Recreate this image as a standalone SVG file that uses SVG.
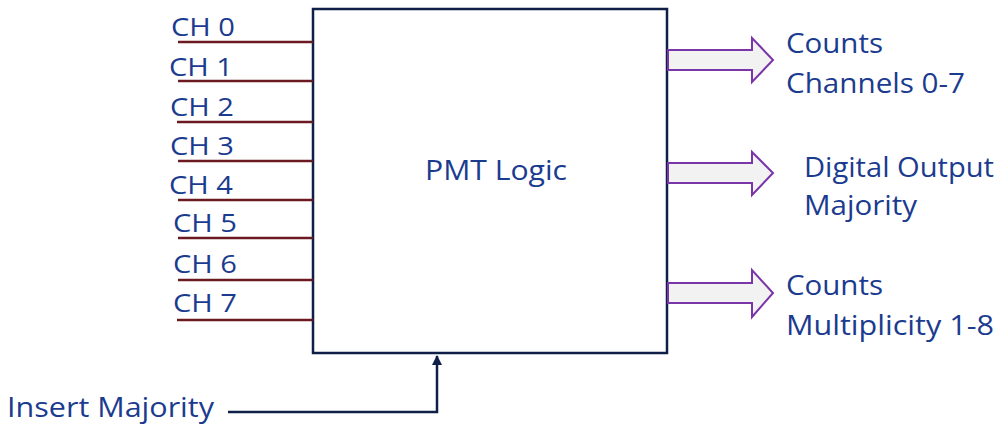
<svg xmlns="http://www.w3.org/2000/svg" width="1003" height="429" viewBox="0 0 1003 429">
<style>
text{font-family:"Open Sans",Lato,"Liberation Sans",sans-serif;fill:#1b3b8f;font-size:27px}
#ch-labels text{font-size:26px}
.ch{stroke:#6b1a22;stroke-width:2.5;fill:none}
.blk{fill:#f2f2f2;stroke:#7a35a8;stroke-width:2}
.nav{stroke:#0f1f48;stroke-width:2.5;fill:none}
</style>
<defs>
<marker id="ah" viewBox="0 0 10 10" refX="9" refY="5" markerWidth="4" markerHeight="4" orient="auto"><path d="M0,0 L10,5 L0,10 z" fill="#0f1f48"/></marker>
</defs>
<g id="pmt-logic">
<rect x="313" y="9" width="354" height="344" fill="#fff" class="nav"/>
<text x="425" y="180" textLength="142" lengthAdjust="spacingAndGlyphs">PMT Logic</text>
</g>
<g id="connectors">
<line class="ch" x1="178" y1="42" x2="313" y2="42"/>
<line class="ch" x1="178" y1="81" x2="313" y2="81"/>
<line class="ch" x1="177" y1="122" x2="313" y2="122"/>
<line class="ch" x1="178" y1="161" x2="313" y2="161"/>
<line class="ch" x1="178" y1="200" x2="313" y2="200"/>
<line class="ch" x1="178" y1="238" x2="313" y2="238"/>
<line class="ch" x1="178" y1="280" x2="313" y2="280"/>
<line class="ch" x1="177" y1="320" x2="313" y2="320"/>
<path class="blk" d="M668,50 H752 V38 L773,60 L752,82 V70 H668 Z"/>
<path class="blk" d="M668,163 H752 V152 L773,173 L752,195 V183 H668 Z"/>
<path class="blk" d="M668,283 H752 V270 L773,293 L752,317 V303 H668 Z"/>
<path class="nav" d="M228,412 H437 V356" marker-end="url(#ah)"/>
</g>
<g id="ch-labels">
<text x="171" y="36" textLength="64" lengthAdjust="spacingAndGlyphs">CH 0</text>
<text x="169" y="76" textLength="64" lengthAdjust="spacingAndGlyphs">CH 1</text>
<text x="170" y="116" textLength="64" lengthAdjust="spacingAndGlyphs">CH 2</text>
<text x="170" y="155" textLength="64" lengthAdjust="spacingAndGlyphs">CH 3</text>
<text x="169" y="194" textLength="64" lengthAdjust="spacingAndGlyphs">CH 4</text>
<text x="173" y="232" textLength="64" lengthAdjust="spacingAndGlyphs">CH 5</text>
<text x="173" y="273" textLength="64" lengthAdjust="spacingAndGlyphs">CH 6</text>
<text x="173" y="312" textLength="64" lengthAdjust="spacingAndGlyphs">CH 7</text>
</g>
<g id="out-counts-channels">
<text x="786" y="53" textLength="97" lengthAdjust="spacingAndGlyphs">Counts</text>
<text x="786" y="93" textLength="179" lengthAdjust="spacingAndGlyphs">Channels 0-7</text>
</g>
<g id="out-digital">
<text x="804" y="177" textLength="190" lengthAdjust="spacingAndGlyphs">Digital Output</text>
<text x="804" y="215" textLength="113" lengthAdjust="spacingAndGlyphs">Majority</text>
</g>
<g id="out-multiplicity">
<text x="786" y="295" textLength="97" lengthAdjust="spacingAndGlyphs">Counts</text>
<text x="786" y="335" textLength="208" lengthAdjust="spacingAndGlyphs">Multiplicity 1-8</text>
</g>
<g id="insert-majority">
<text x="7" y="417" textLength="207" lengthAdjust="spacingAndGlyphs">Insert Majority</text>
</g>
</svg>
